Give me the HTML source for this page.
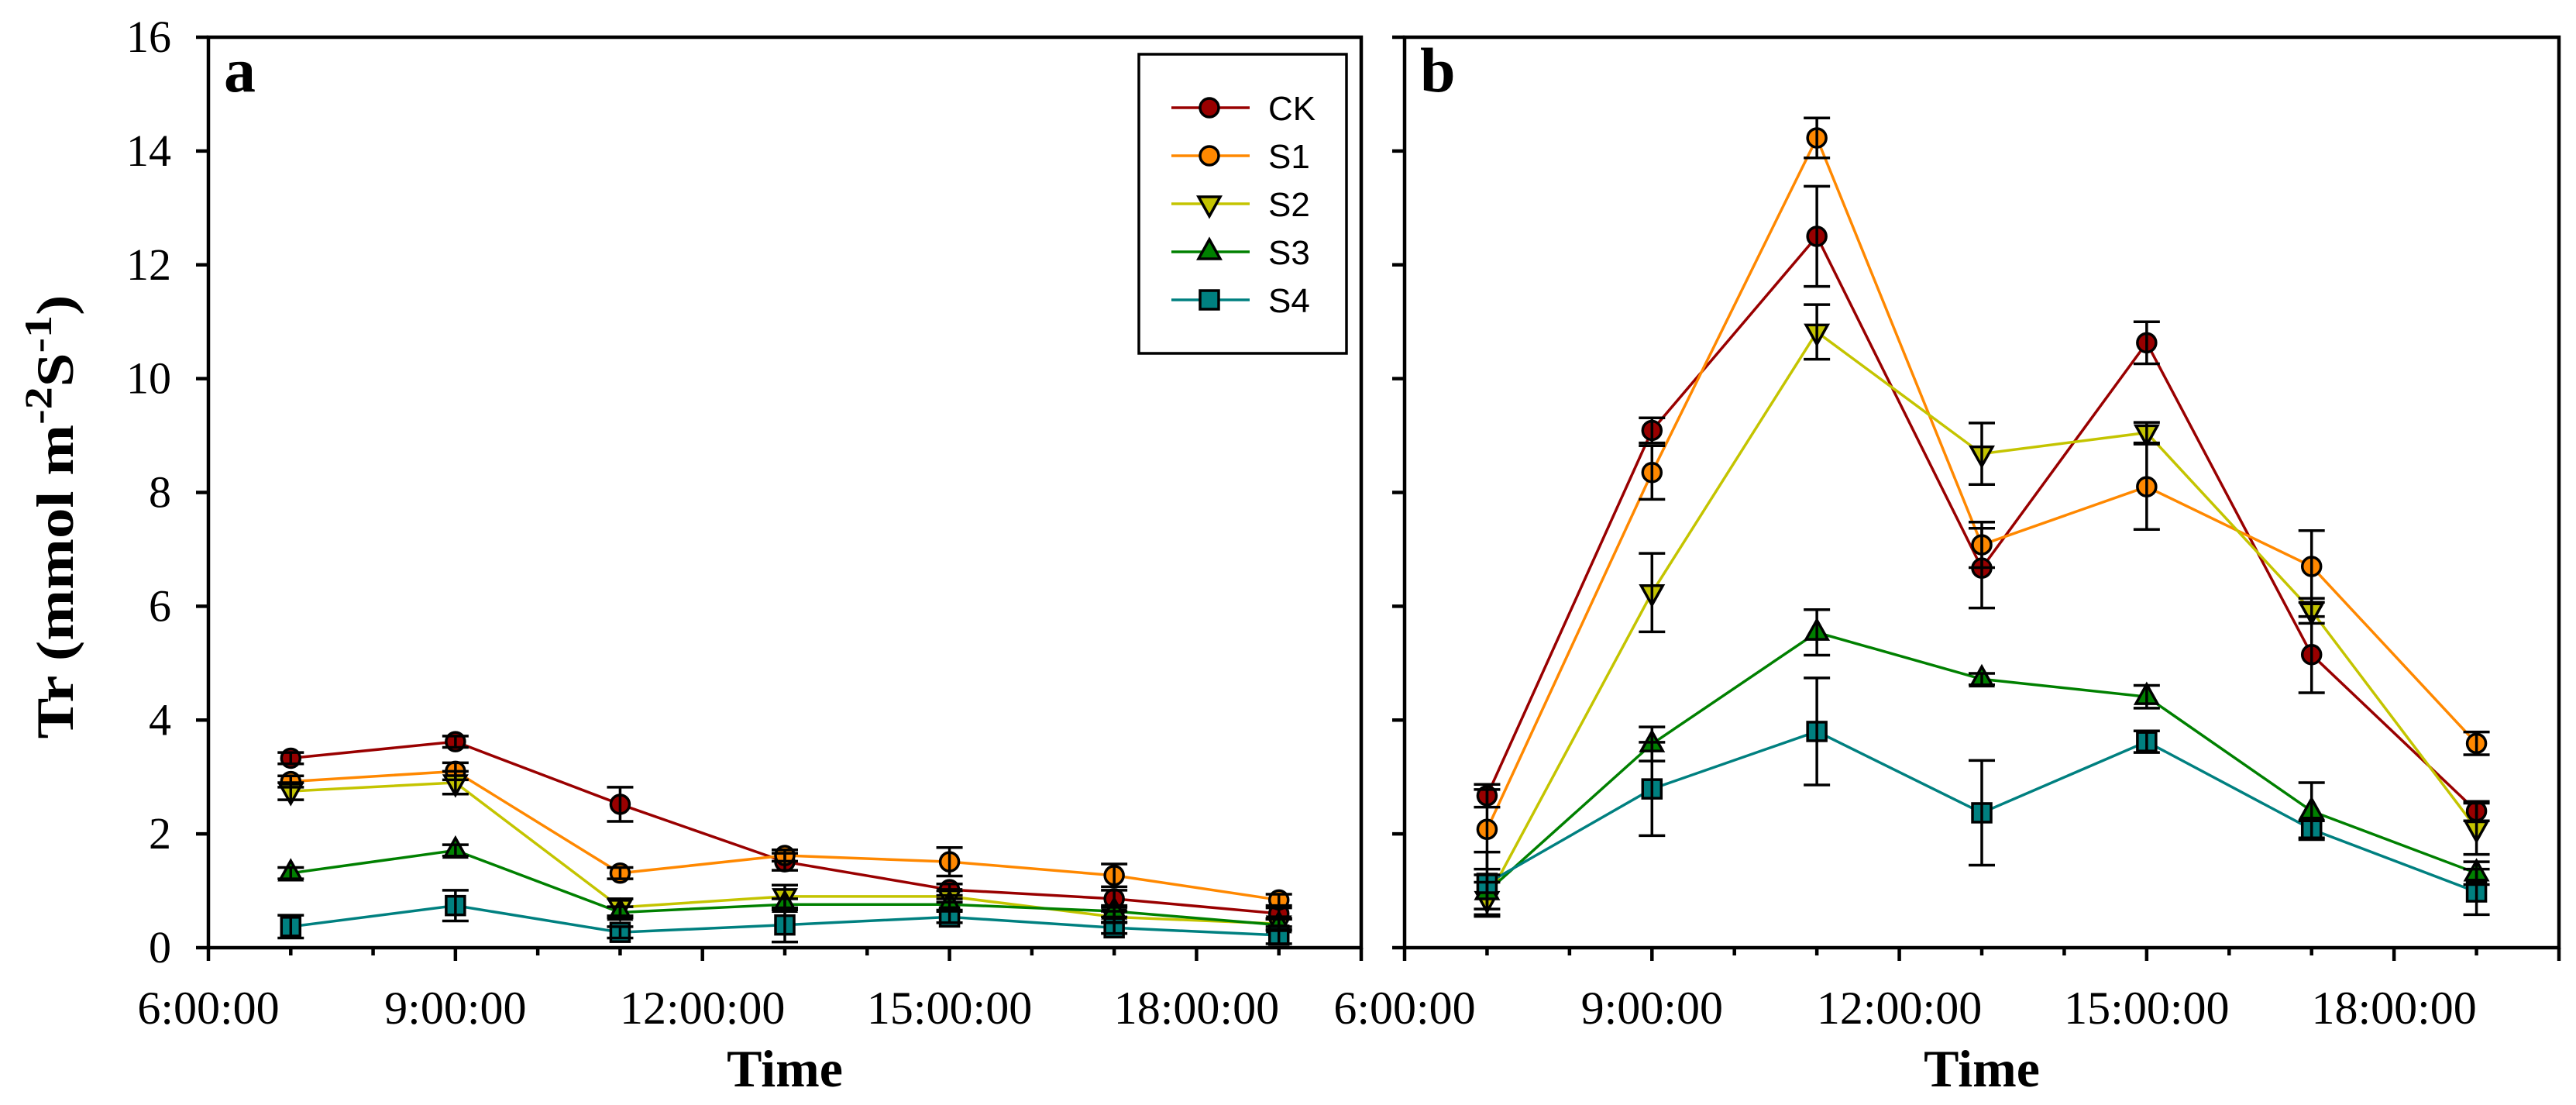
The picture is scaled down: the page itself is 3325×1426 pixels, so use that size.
<!DOCTYPE html>
<html><head><meta charset="utf-8"><style>
html,body{margin:0;padding:0;background:#fff;}
svg{display:block;}
</style></head><body>
<svg id="chart" xmlns="http://www.w3.org/2000/svg" width="3325" height="1426" viewBox="0 0 3325 1426">
<rect x="0" y="0" width="3325" height="1426" fill="#fff"/>
<text transform="translate(94,667) rotate(-90)" text-anchor="middle" font-family="Liberation Serif, serif" font-weight="bold" font-size="68" textLength="573" lengthAdjust="spacingAndGlyphs">Tr (mmol m<tspan baseline-shift="super" font-size="50">-2</tspan>S<tspan baseline-shift="super" font-size="50">-1</tspan>)</text>
</svg>
<script>
const hours = [7, 9, 11, 13, 15, 17, 19];
const yTicks = [0, 2, 4, 6, 8, 10, 12, 14, 16];
const xMajorHours = [6, 9, 12, 15, 18];
const xTickLabels = ["6:00:00", "9:00:00", "12:00:00", "15:00:00", "18:00:00"];
const seriesNames = ["CK", "S1", "S2", "S3", "S4"];
const seriesColors = ["#990000", "#ff8800", "#c4c400", "#008000", "#008080"];
const seriesMarkers = ["circle", "circle", "tdown", "tup", "square"];
// Panel a
const aCK = [3.33, 3.62, 2.52, 1.51, 1.02, 0.86, 0.6];
const aS1 = [2.92, 3.1, 1.31, 1.62, 1.51, 1.27, 0.84];
const aS2 = [2.75, 2.9, 0.71, 0.9, 0.9, 0.54, 0.42];
const aS3 = [1.31, 1.71, 0.62, 0.76, 0.76, 0.64, 0.4];
const aS4 = [0.37, 0.74, 0.27, 0.4, 0.54, 0.35, 0.22];
const aCKerr = [0.1, 0.1, 0.3, 0.15, 0.1, 0.15, 0.1];
const aS1err = [0.1, 0.15, 0.1, 0.1, 0.25, 0.2, 0.1];
const aS2err = [0.15, 0.2, 0.15, 0.2, 0.1, 0.1, 0.1];
const aS3err = [0.1, 0.1, 0.1, 0.1, 0.1, 0.1, 0.1];
const aS4err = [0.2, 0.27, 0.1, 0.3, 0.1, 0.1, 0.15];
// Panel b
const bCK = [2.67, 9.09, 12.5, 6.67, 10.63, 5.15, 2.4];
const bS1 = [2.08, 8.35, 14.23, 7.08, 8.1, 6.7, 3.59];
const bS2 = [0.85, 6.24, 10.82, 8.68, 9.05, 5.92, 2.09];
const bS3 = [0.98, 3.58, 5.54, 4.72, 4.41, 2.4, 1.31];
const bS4 = [1.13, 2.79, 3.8, 2.37, 3.62, 2.08, 0.98];
const bCKerr = [0.2, 0.22, 0.88, 0.7, 0.37, 0.67, 0.17];
const bS1err = [0.7, 0.47, 0.35, 0.4, 0.75, 0.63, 0.2];
const bS2err = [0.3, 0.69, 0.48, 0.54, 0.18, 0.22, 0.45];
const bS3err = [0.3, 0.3, 0.4, 0.1, 0.2, 0.5, 0.2];
const bS4err = [0.55, 0.82, 0.94, 0.92, 0.19, 0.15, 0.4];

const NS = "http://www.w3.org/2000/svg";
const svg = document.getElementById("chart");
function mk(tag, attrs, parent) {
  const e = document.createElementNS(NS, tag);
  for (const k in attrs) e.setAttribute(k, attrs[k]);
  (parent || svg).appendChild(e);
  return e;
}
const Y0 = 1223, Y1 = 48;
function yScale(v) { return Y0 - (v / 16) * (Y0 - Y1); }

function drawMarker(g, type, cx, cy, color) {
  let m;
  if (type === "circle") {
    m = mk("circle", {cx: cx, cy: cy, r: 12, fill: color, stroke: "#000", "stroke-width": 3.5}, g);
  } else if (type === "square") {
    m = mk("rect", {x: cx - 12, y: cy - 12, width: 24, height: 24, fill: color, stroke: "#000", "stroke-width": 3.5}, g);
  } else if (type === "tdown") {
    m = mk("polygon", {points: (cx - 14) + "," + (cy - 9) + " " + (cx + 14) + "," + (cy - 9) + " " + cx + "," + (cy + 16), fill: color, stroke: "#000", "stroke-width": 3.5, "stroke-linejoin": "miter"}, g);
  } else {
    m = mk("polygon", {points: (cx - 14) + "," + (cy + 9) + " " + (cx + 14) + "," + (cy + 9) + " " + cx + "," + (cy - 16), fill: color, stroke: "#000", "stroke-width": 3.5}, g);
  }
  return m;
}

function drawPanel(id, left, right, letter, showLabels, vals, errs) {
  const xScale = h => left + (h - 6) / 14 * (right - left);
  const g = mk("g", {});
  
  
  // frame
  const fr = mk("rect", {x: left, y: Y1, width: right - left, height: Y0 - Y1, fill: "none", stroke: "#000", "stroke-width": 4.5}, g);
  
  
  // y ticks
  yTicks.forEach(v => {
    const t = mk("line", {x1: left - 16, x2: left, y1: yScale(v), y2: yScale(v), stroke: "#000", "stroke-width": 4.5}, g);
    
    
    if (showLabels) {
      const tx = mk("text", {x: 221, y: yScale(v) + 19, "text-anchor": "end", "font-family": "Liberation Serif, serif", "font-size": 58}, g);
      tx.textContent = String(v);
      
      
    }
  });
  // x ticks
  for (let h = 6; h <= 20; h++) {
    const major = xMajorHours.indexOf(h) >= 0 || h === 20;
    const t = mk("line", {x1: xScale(h), x2: xScale(h), y1: Y0, y2: Y0 + (major ? 17 : 10), stroke: "#000", "stroke-width": 4.5}, g);
    
    
  }
  xMajorHours.forEach((h, i) => {
    const tx = mk("text", {x: xScale(h), y: 1321, "text-anchor": "middle", "font-family": "Liberation Serif, serif", "font-size": 60}, g);
    tx.textContent = xTickLabels[i];
    
    
  });
  const xt = mk("text", {x: (left + right) / 2, y: 1402, "text-anchor": "middle", "font-family": "Liberation Serif, serif", "font-weight": "bold", "font-size": 68}, g);
  xt.textContent = "Time";
  
  
  const lt = mk("text", {x: left + 20, y: 118, "font-family": "Liberation Serif, serif", "font-weight": "bold", "font-size": 82}, g);
  lt.textContent = letter;
  
  
  // lines
  vals.forEach((arr, s) => {
    const pts = arr.map((v, i) => xScale(hours[i]) + "," + yScale(v)).join(" ");
    const pl = mk("polyline", {points: pts, fill: "none", stroke: seriesColors[s], "stroke-width": 3.5}, g);
    
    
  });
  // markers
  vals.forEach((arr, s) => {
    arr.forEach((v, i) => {
      const m = drawMarker(g, seriesMarkers[s], xScale(hours[i]), yScale(v), seriesColors[s]);
      
      
    });
  });
  // error bars
  vals.forEach((arr, s) => {
    arr.forEach((v, i) => {
      const e = errs[s][i];
      const x = xScale(hours[i]);
      const eg = mk("g", {stroke: "#000", "stroke-width": 3.5}, g);
      
      
      mk("line", {x1: x, x2: x, y1: yScale(v + e), y2: yScale(v - e)}, eg);
      mk("line", {x1: x - 17, x2: x + 17, y1: yScale(v + e), y2: yScale(v + e)}, eg);
      mk("line", {x1: x - 17, x2: x + 17, y1: yScale(v - e), y2: yScale(v - e)}, eg);
    });
  });
}

drawPanel("a", 269, 1757, "a", true, [aCK, aS1, aS2, aS3, aS4], [aCKerr, aS1err, aS2err, aS3err, aS4err]);
drawPanel("b", 1813, 3303, "b", false, [bCK, bS1, bS2, bS3, bS4], [bCKerr, bS1err, bS2err, bS3err, bS4err]);

// legend
const lg = mk("g", {});


mk("rect", {x: 1470, y: 70, width: 268, height: 386, fill: "#fff", stroke: "#000", "stroke-width": 3.5}, lg);
seriesNames.forEach((n, s) => {
  const cy = 139 + s * 62;
  const eg = mk("g", {}, lg);
  
  
  mk("line", {x1: 1512, x2: 1613, y1: cy, y2: cy, stroke: seriesColors[s], "stroke-width": 3.5}, eg);
  drawMarker(eg, seriesMarkers[s], 1561, cy, seriesColors[s]);
  const t = mk("text", {x: 1637, y: cy + 16, "font-family": "Liberation Sans, sans-serif", "font-size": 44}, eg);
  t.textContent = n;
});
</script>
</body></html>
